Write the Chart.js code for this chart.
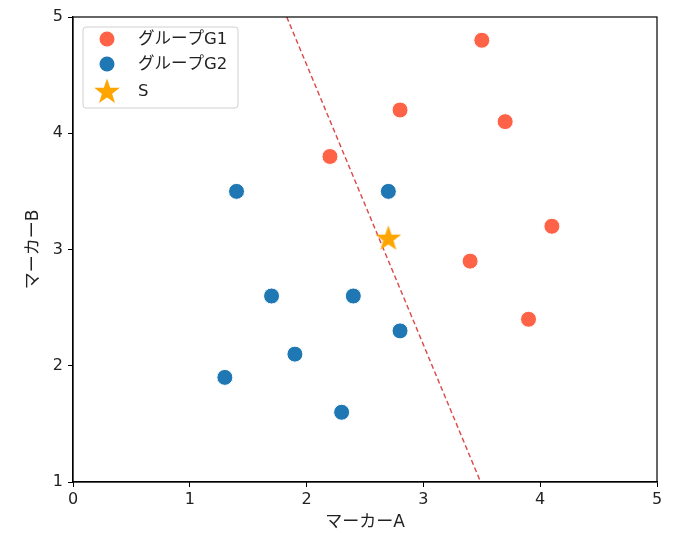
<html>
<head>
<meta charset="utf-8">
<script src="https://cdn.jsdelivr.net/npm/chart.js"></script>
<style>
  body { margin: 0; background: white; }
  #wrap { width: 678px; height: 549px; }
</style>
</head>
<body>
<div id="wrap"><canvas id="c"></canvas></div>
<script>
// data
const g1X = [3.5, 2.8, 3.7, 2.2, 4.1, 3.4, 3.9];
const g1Y = [4.8, 4.2, 4.1, 3.8, 3.2, 2.9, 2.4];
const g2X = [1.4, 2.7, 1.7, 2.4, 2.8, 1.9, 1.3, 2.3];
const g2Y = [3.5, 3.5, 2.6, 2.6, 2.3, 2.1, 1.9, 1.6];
const sX = [2.7];
const sY = [3.1];
const lineX = [1.83, 3.49];
const lineY = [5, 1];
const xTicks = [0, 1, 2, 3, 4, 5];
const yTicks = [1, 2, 3, 4, 5];
const labels = ['グループG1', 'グループG2', 'S'];

const FONT = "'DejaVu Sans', 'Noto Sans CJK JP', sans-serif";
const pts = (xs, ys) => xs.map((x, i) => ({ x: x, y: ys[i] }));

// filled star used as point style
function makeStar(size) {
  const cv = document.createElement('canvas');
  cv.width = size; cv.height = size;
  const g = cv.getContext('2d');
  const cx = size / 2, cy = size / 2 + 1, R = size / 2 - 0.5, r = R * 0.4;
  g.beginPath();
  for (let i = 0; i < 10; i++) {
    const rad = i % 2 === 0 ? R : r;
    const a = -Math.PI / 2 + i * Math.PI / 5;
    g.lineTo(cx + rad * Math.cos(a), cy + rad * Math.sin(a));
  }
  g.closePath();
  g.fillStyle = 'orange';
  g.fill();
  return cv;
}
const star = makeStar(28);

const frame = {
  id: 'frame',
  afterDatasetsDraw(chart) {
    const a = chart.chartArea, ctx = chart.ctx;
    ctx.save();
    ctx.strokeStyle = 'black';
    ctx.lineWidth = 1.2;
    ctx.strokeRect(a.left, a.top, a.right - a.left, a.bottom - a.top);

    // legend box inside the plot
    const bx = a.left + 10, by = a.top + 10, bw = 155, bh = 81;
    ctx.fillStyle = 'rgba(255,255,255,0.85)';
    ctx.strokeStyle = '#d0d0d0';
    ctx.lineWidth = 1;
    ctx.beginPath();
    ctx.roundRect(bx, by, bw, bh, 3);
    ctx.fill();
    ctx.stroke();
    const colors = ['tomato', '#1f77b4'];
    const rows = [by + 12, by + 37, by + 64];
    ctx.font = '16.5px ' + FONT;
    ctx.textBaseline = 'middle';
    labels.forEach((t, i) => {
      const mx = bx + 24, my = rows[i];
      if (i < 2) {
        ctx.beginPath();
        ctx.arc(mx, my, 7.5, 0, Math.PI * 2);
        ctx.fillStyle = colors[i];
        ctx.fill();
      } else {
        ctx.drawImage(star, mx - 14, my - 14);
      }
      ctx.fillStyle = '#222';
      ctx.fillText(t, bx + 55, my + 1);
    });
    ctx.restore();
  }
};

new Chart(document.getElementById('c'), {
  type: 'scatter',
  data: {
    datasets: [
      {
        label: labels[2], data: pts(sX, sY), pointStyle: star,
        pointRadius: 14, order: 0
      },
      {
        label: labels[0], data: pts(g1X, g1Y), backgroundColor: 'tomato',
        borderColor: 'white', borderWidth: 1, pointRadius: 8, order: 1
      },
      {
        label: labels[1], data: pts(g2X, g2Y), backgroundColor: '#1f77b4',
        borderColor: 'white', borderWidth: 1, pointRadius: 8, order: 2
      },
      {
        type: 'line', label: 'boundary', data: pts(lineX, lineY),
        borderColor: 'rgba(214,39,40,0.85)', borderWidth: 1.4, borderDash: [5, 3],
        pointRadius: 0, showLine: true, fill: false, order: 3
      }
    ]
  },
  options: {
    responsive: true,
    maintainAspectRatio: false,
    animation: false,
    layout: { padding: { top: 17, right: 21, left: 0, bottom: 0 } },
    plugins: { legend: { display: false }, tooltip: { enabled: false } },
    scales: {
      x: {
        type: 'linear', min: 0, max: 5,
        afterBuildTicks: s => { s.ticks = xTicks.map(v => ({ value: v })); },
        afterFit: s => { s.height = 67; },
        grid: { drawOnChartArea: false, drawTicks: true, tickLength: 5, color: 'black' },
        border: { display: true, color: 'black', width: 1.2 },
        ticks: { color: '#222', font: { size: 16, family: FONT }, padding: 3 },
        title: {
          display: true, text: 'マーカーA', color: '#222',
          font: { size: 17, family: FONT }, padding: { top: 0, bottom: 16 }
        }
      },
      y: {
        type: 'linear', min: 1, max: 5,
        afterBuildTicks: s => { s.ticks = yTicks.map(v => ({ value: v })); },
        afterFit: s => { s.width = 73; },
        grid: { drawOnChartArea: false, drawTicks: true, tickLength: 5, color: 'black' },
        border: { display: true, color: 'black', width: 1.2 },
        ticks: { color: '#222', font: { size: 16, family: FONT }, padding: 5 },
        title: {
          display: true, text: 'マーカーB', color: '#222',
          font: { size: 17, family: FONT }, padding: { top: 23, bottom: 0 }
        }
      }
    }
  },
  plugins: [frame]
});
</script>
</body>
</html>
